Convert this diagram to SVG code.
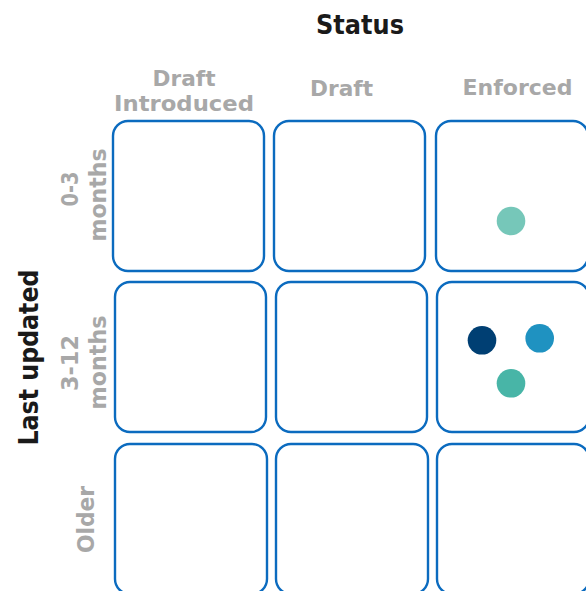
<svg xmlns="http://www.w3.org/2000/svg" width="586" height="591" viewBox="0 0 586 591">
  <style>
    .title { font-family: "DejaVu Sans", Verdana, sans-serif; font-weight: bold; fill: #1a1a1a; }
    .head { font-family: "DejaVu Sans", Verdana, sans-serif; font-weight: bold; fill: #a8a8a8; text-anchor: middle; }
    .cell { fill: #ffffff; stroke: #0b6bbf; stroke-width: 2.4; }
  </style>
  <rect width="586" height="591" fill="#ffffff"/>

  <!-- axis titles -->
  <text class="title" x="360" y="33.5" font-size="26" text-anchor="middle" textLength="88" lengthAdjust="spacingAndGlyphs">Status</text>
  <text class="title" font-size="27" text-anchor="middle" textLength="176" lengthAdjust="spacingAndGlyphs" transform="translate(37.5,357.5) rotate(-90)">Last updated</text>

  <!-- column headers -->
  <g id="col-draft-introduced">
    <text class="head" x="184" y="85.5" font-size="22" textLength="63" lengthAdjust="spacingAndGlyphs">Draft</text>
    <text class="head" x="184" y="110.5" font-size="22" textLength="140" lengthAdjust="spacingAndGlyphs">Introduced</text>
  </g>
  <g id="col-draft">
    <text class="head" x="341.5" y="95.5" font-size="22" textLength="63" lengthAdjust="spacingAndGlyphs">Draft</text>
  </g>
  <g id="col-enforced">
    <text class="head" x="517.5" y="95" font-size="22" textLength="110" lengthAdjust="spacingAndGlyphs">Enforced</text>
  </g>

  <!-- row headers -->
  <g id="row-0-3">
    <text class="head" font-size="23" textLength="35" lengthAdjust="spacingAndGlyphs" transform="translate(77.5,189) rotate(-90)">0-3</text>
    <text class="head" font-size="23" textLength="93" lengthAdjust="spacingAndGlyphs" transform="translate(105.5,195) rotate(-90)">months</text>
  </g>
  <g id="row-3-12">
    <text class="head" font-size="23" textLength="56" lengthAdjust="spacingAndGlyphs" transform="translate(77.5,363) rotate(-90)">3-12</text>
    <text class="head" font-size="23" textLength="94" lengthAdjust="spacingAndGlyphs" transform="translate(105.5,362.5) rotate(-90)">months</text>
  </g>
  <g id="row-older">
    <text class="head" font-size="23" textLength="67" lengthAdjust="spacingAndGlyphs" transform="translate(94,519.5) rotate(-90)">Older</text>
  </g>

  <!-- matrix cells -->
  <g id="cell-r1-c1"><rect class="cell" x="113" y="121" width="151" height="150" rx="15"/></g>
  <g id="cell-r1-c2"><rect class="cell" x="274" y="121" width="151" height="150" rx="15"/></g>
  <g id="cell-r1-c3">
    <rect class="cell" x="436" y="121" width="152" height="150" rx="15"/>
    <circle cx="511" cy="221" r="14.3" fill="#76c7b9"/>
  </g>
  <g id="cell-r2-c1"><rect class="cell" x="115" y="282" width="151" height="150" rx="15"/></g>
  <g id="cell-r2-c2"><rect class="cell" x="276" y="282" width="151" height="150" rx="15"/></g>
  <g id="cell-r2-c3">
    <rect class="cell" x="437" y="282" width="152" height="150" rx="15"/>
    <circle cx="482" cy="340.3" r="14.3" fill="#003f73"/>
    <circle cx="539.7" cy="338.3" r="14.3" fill="#1f92c1"/>
    <circle cx="511" cy="383.3" r="14.3" fill="#48b5a7"/>
  </g>
  <g id="cell-r3-c1"><rect class="cell" x="115" y="444" width="152" height="150" rx="15"/></g>
  <g id="cell-r3-c2"><rect class="cell" x="276" y="444" width="152" height="150" rx="15"/></g>
  <g id="cell-r3-c3"><rect class="cell" x="437" y="444" width="152" height="150" rx="15"/></g>

  <!-- no connectors in this matrix -->
  <g id="connectors"/>
</svg>
